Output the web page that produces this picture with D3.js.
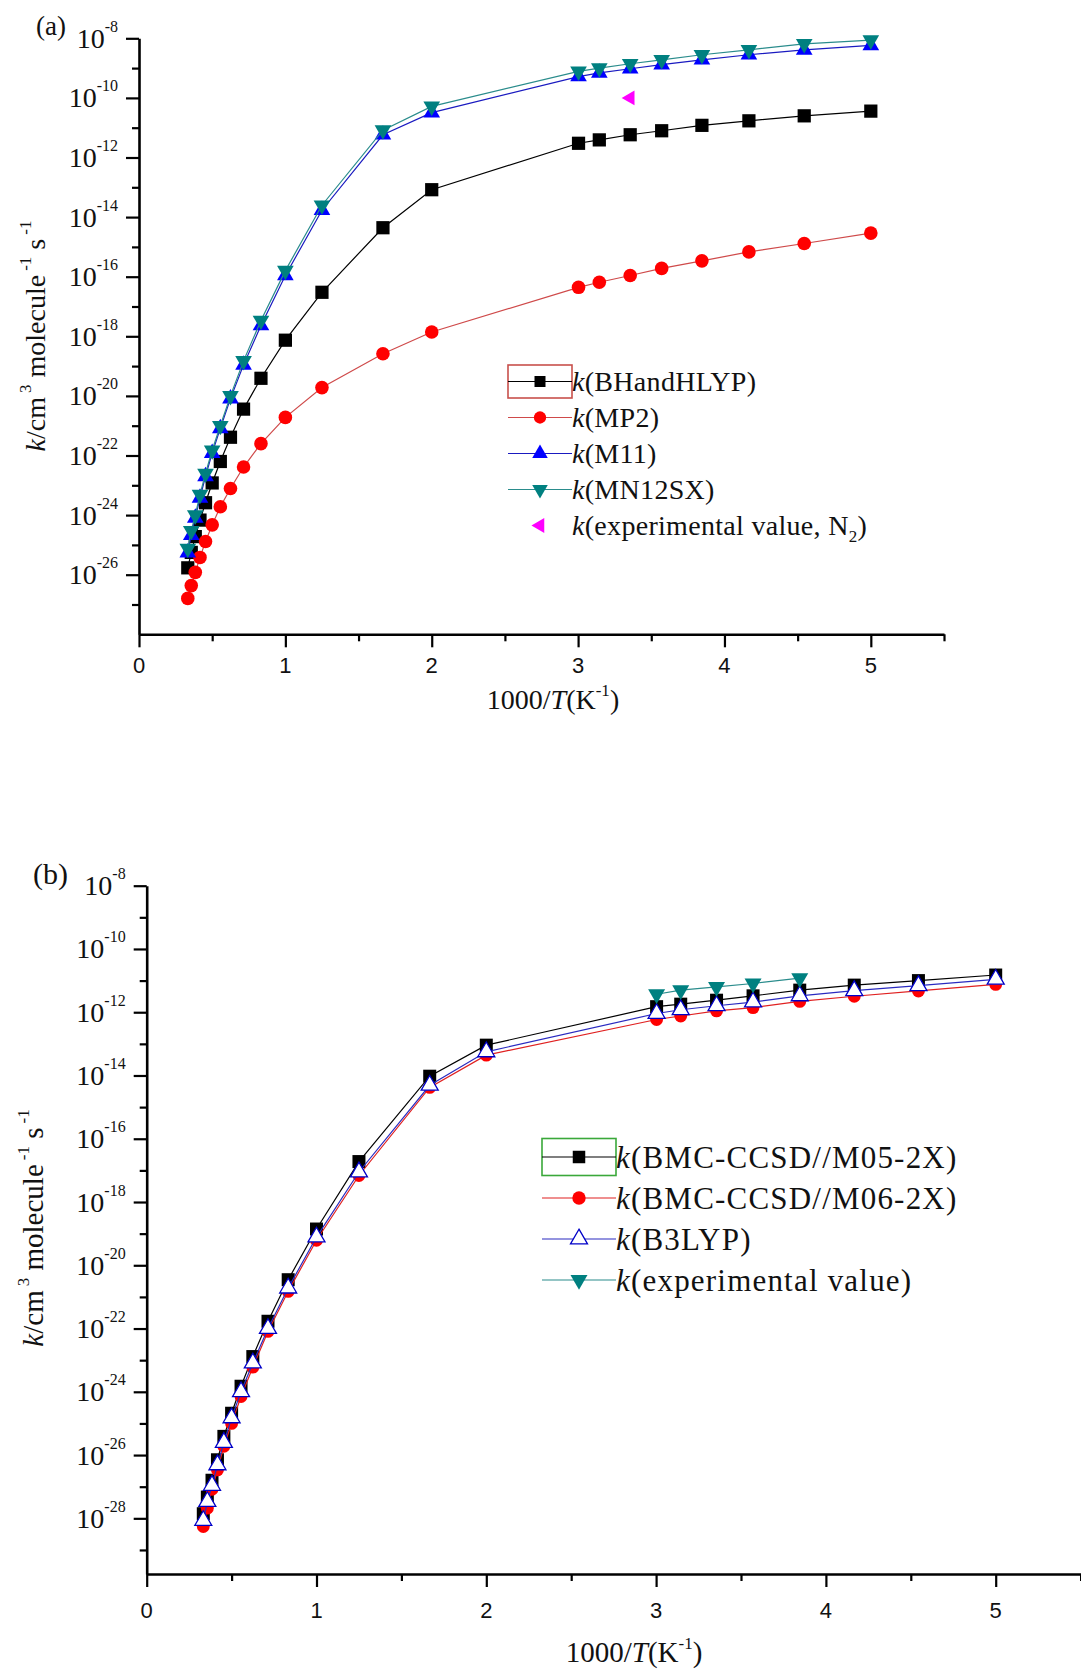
<!DOCTYPE html>
<html>
<head>
<meta charset="utf-8">
<script src="https://cdn.jsdelivr.net/npm/d3@7"></script>
<style>
  html, body { margin: 0; padding: 0; background: #fff; }
  svg { display: block; }
</style>
</head>
<body>
<div id="chart"></div>
<script>
// Data
//////////////////////////////////////////////////////////////////////
// 1000/T (K^-1)
var invT = [0.3333, 0.3571, 0.3846, 0.4167, 0.4545, 0.5, 0.5556, 0.625, 0.7143, 0.8333,
  1.0, 1.25, 1.6667, 2.0, 3.003, 3.145, 3.356, 3.571, 3.846, 4.167, 4.545, 5.0];

// panel (a)
var kBHandHLYP = [1.7e-26, 5.6e-26, 1.9e-25, 6.8e-25, 2.6e-24, 1.2e-23, 6.3e-23, 4.1e-22, 3.6e-21, 3.9e-20,
  7.4e-19, 3.0e-17, 4.4e-15, 8.3e-14, 3.0e-12, 3.9e-12, 5.8e-12, 7.9e-12, 1.2e-11, 1.7e-11, 2.5e-11, 3.6e-11];
var kMP2 = [1.6e-27, 4.3e-27, 1.2e-26, 3.8e-26, 1.3e-25, 4.7e-25, 1.9e-24, 7.8e-24, 4.1e-23, 2.5e-22,
  1.9e-21, 1.9e-20, 2.6e-19, 1.4e-18, 4.4e-17, 6.5e-17, 1.1e-16, 1.9e-16, 3.4e-16, 6.8e-16, 1.3e-15, 2.9e-15];
var kM11 = [5.5e-26, 2.1e-25, 8.1e-25, 3.8e-24, 2.0e-23, 1.2e-22, 8.1e-22, 8.1e-21, 1.1e-19, 2.3e-18,
  1.1e-16, 1.7e-14, 5.8e-12, 3.2e-11, 5.2e-10, 6.9e-10, 9.5e-10, 1.3e-9, 1.9e-9, 2.8e-9, 4.1e-9, 5.8e-9];
var kMN12SX = [7.6e-26, 3.0e-25, 1.0e-24, 4.9e-24, 2.5e-23, 1.5e-22, 1.0e-21, 1.0e-20, 1.5e-19, 3.4e-18,
  1.6e-16, 2.5e-14, 8.3e-12, 5.2e-11, 7.8e-10, 1.0e-9, 1.4e-9, 1.9e-9, 2.8e-9, 4.1e-9, 6.5e-9, 8.7e-9];
var invTExpN2 = [3.356];
var kExpN2 = [1.0e-10];

// panel (b)
var kM052X = [1.4e-28, 4.7e-28, 1.6e-27, 7.1e-27, 3.9e-26, 2.1e-25, 1.5e-24, 1.3e-23, 1.7e-22, 3.5e-21,
  1.4e-19, 1.9e-17, 9.5e-15, 9.1e-14, 1.5e-12, 1.8e-12, 2.4e-12, 3.3e-12, 5.0e-12, 7.2e-12, 1.0e-11, 1.5e-11];
var kM062X = [5.5e-29, 2.1e-28, 8.3e-28, 3.4e-27, 1.9e-26, 1.0e-25, 7.1e-25, 6.0e-24, 8.1e-23, 1.5e-21,
  6.2e-20, 6.9e-18, 4.2e-15, 4.4e-14, 5.9e-13, 7.6e-13, 1.1e-12, 1.4e-12, 2.2e-12, 3.2e-12, 4.7e-12, 7.6e-12];
var kB3LYP = [8.5e-29, 3.4e-28, 1.1e-27, 4.9e-27, 2.5e-26, 1.5e-25, 1.0e-24, 8.1e-24, 1.0e-22, 1.9e-21,
  7.8e-20, 8.9e-18, 4.9e-15, 5.6e-14, 9.1e-13, 1.2e-12, 1.6e-12, 2.1e-12, 3.3e-12, 4.8e-12, 6.9e-12, 1.1e-11];
var invTExp = [3.003, 3.145, 3.356, 3.571, 3.846];
var kExp = [3.7e-12, 5.0e-12, 6.3e-12, 8.1e-12, 1.2e-11];

// axis ticks
var xMajor = [0, 1, 2, 3, 4, 5];
var xMinor = [0.5, 1.5, 2.5, 3.5, 4.5, 5.5];
var yMajorA = [-8, -10, -12, -14, -16, -18, -20, -22, -24, -26];
var yMinorA = [-9, -11, -13, -15, -17, -19, -21, -23, -25, -27];
var yMajorB = [-8, -10, -12, -14, -16, -18, -20, -22, -24, -26, -28];
var yMinorB = [-9, -11, -13, -15, -17, -19, -21, -23, -25, -27, -29];

// Variables
//////////////////////////////////////////////////////////////////////
var width = 1081, height = 1670;
var serif = "'Liberation Serif', 'Times New Roman', serif";
var sans = "'Liberation Sans', Arial, sans-serif";

var svg = d3.select("#chart").append("svg")
  .attr("width", width)
  .attr("height", height)
  .attr("viewBox", [0, 0, width, height]);
svg.append("rect").attr("width", width).attr("height", height).attr("fill", "#fff");

// write text made of parts: [string, kind] kind = "i" | "sup" | "sub" | undefined
function richText(g, parts, supSize, supShift) {
  var shift = 0;
  parts.forEach(function (p) {
    var t = g.append("tspan").text(p[0]);
    var target = 0;
    if (p[1] === "sup") { target = -supShift; t.attr("font-size", supSize); }
    if (p[1] === "sub") { target = supShift * 0.55; t.attr("font-size", supSize); }
    if (p[1] === "i") t.attr("font-style", "italic");
    if (p[2]) t.attr("dx", p[2]);
    if (target !== shift) { t.attr("dy", target - shift); shift = target; }
  });
  return g;
}

function marker(sel, m) {
  var type = { square: d3.symbolSquare, circle: d3.symbolCircle, tri: d3.symbolTriangle }[m.shape];
  sel.attr("d", d3.symbol().type(type).size(m.size))
    .attr("fill", m.fill)
    .attr("stroke", m.stroke || "none")
    .attr("stroke-width", m.strokeWidth || 0);
}

// Draw one panel
//////////////////////////////////////////////////////////////////////
function panel(cfg) {
  var x = d3.scaleLinear().domain([0, 5.5]).range([cfg.left, cfg.right]);
  var y = d3.scaleLog().domain([cfg.yMin, 1e-8]).range([cfg.bottom, cfg.top]);
  var g = svg.append("g");

  // axes
  g.append("g").attr("transform", `translate(0,${cfg.bottom})`)
    .call(d3.axisBottom(x).tickValues(xMajor).tickSize(13).tickSizeOuter(0).tickFormat(""));
  g.append("g").attr("transform", `translate(0,${cfg.bottom})`)
    .call(d3.axisBottom(x).tickValues(xMinor).tickSize(7).tickSizeOuter(0).tickFormat(""))
    .select(".domain").remove();
  g.append("g").attr("transform", `translate(${cfg.left},0)`)
    .call(d3.axisLeft(y).tickValues(cfg.yMajor.map(e => Math.pow(10, e))).tickSize(13).tickSizeOuter(0).tickFormat(""));
  g.append("g").attr("transform", `translate(${cfg.left},0)`)
    .call(d3.axisLeft(y).tickValues(cfg.yMinor.map(e => Math.pow(10, e))).tickSize(7).tickSizeOuter(0).tickFormat(""))
    .select(".domain").remove();
  g.selectAll(".domain").attr("stroke", "#000").attr("stroke-width", 2.6);
  g.selectAll(".tick line").attr("stroke", "#000").attr("stroke-width", 2.2);

  // x tick labels
  g.append("g").selectAll("text").data(xMajor).join("text")
    .attr("x", d => x(d)).attr("y", cfg.bottom + cfg.xLabelDy)
    .attr("text-anchor", "middle")
    .attr("font-family", sans).attr("font-size", 22).attr("fill", "#111")
    .text(d => d);

  // y tick labels 10^n
  g.append("g").selectAll("text").data(cfg.yMajor).join("text")
    .attr("x", cfg.left - 21).attr("y", d => y(Math.pow(10, d)) + 9.5)
    .attr("text-anchor", "end")
    .attr("font-family", serif).attr("font-size", cfg.tickFont).attr("fill", "#111")
    .each(function (d) { richText(d3.select(this), [["10"], ["-" + (-d), "sup"]], 16, 16); });

  // axis titles
  richText(g.append("text")
    .attr("x", cfg.xTitleX).attr("y", cfg.xTitleY)
    .attr("text-anchor", "middle")
    .attr("font-family", serif).attr("font-size", cfg.titleFont).attr("fill", "#111"),
    [["1000/"], ["T", "i"], ["(K"], ["-1", "sup"], [")"]], 17, 13);

  richText(g.append("text")
    .attr("transform", `translate(${cfg.yTitleX},${cfg.yTitleY}) rotate(-90)`)
    .attr("text-anchor", "middle")
    .attr("font-family", serif).attr("font-size", cfg.titleFont).attr("fill", "#111"),
    [["k", "i"], ["/cm"], ["3", "sup", 4], [" molecule"], ["-1", "sup", 4], [" s"], ["-1", "sup", 4]], 17, 14);

  // panel letter
  g.append("text").attr("x", cfg.letterX).attr("y", cfg.letterY)
    .attr("font-family", serif).attr("font-size", cfg.letterFont).attr("fill", "#111")
    .text(cfg.letter);

  // series
  var line = d3.line().x(d => x(d[0])).y(d => y(d[1]));
  cfg.series.forEach(function (s) {
    var pts = s.xs.map((v, i) => [v, s.ks[i]]);
    if (s.line) {
      g.append("path").datum(pts)
        .attr("d", line)
        .attr("fill", "none")
        .attr("stroke", s.line)
        .attr("stroke-width", 1.2);
    }
    g.append("g").selectAll("path").data(pts).join("path")
      .call(marker, s.marker)
      .attr("transform", d => `translate(${x(d[0])},${y(d[1])}) rotate(${s.marker.rotate || 0})`);
  });

  // legend
  var lg = g.append("g");
  var L = cfg.legend;
  lg.append("rect")
    .attr("x", L.x0).attr("y", L.y0 - L.boxH / 2)
    .attr("width", L.x1 - L.x0).attr("height", L.boxH)
    .attr("fill", "none").attr("stroke", L.boxColor).attr("stroke-width", 1.6);
  cfg.series.forEach(function (s, i) {
    var ry = L.y0 + i * L.dy;
    if (s.line) {
      lg.append("line").attr("x1", L.x0).attr("x2", L.x1).attr("y1", ry).attr("y2", ry)
        .attr("stroke", s.line).attr("stroke-width", 1.2);
    }
    lg.append("path")
      .call(marker, Object.assign({}, s.marker, { size: s.legendSize || s.marker.size }))
      .attr("transform", `translate(${(L.x0 + L.x1) / 2},${ry}) rotate(${s.marker.rotate || 0})`);
    richText(lg.append("text")
      .attr("x", L.x1).attr("y", ry + L.font * 0.34)
      .attr("font-family", serif).attr("font-size", L.font).attr("fill", "#111")
      .attr("letter-spacing", L.spacing || 0),
      s.label, 17, 12);
  });
}

// Panel (a)
//////////////////////////////////////////////////////////////////////
panel({
  letter: "(a)", letterX: 36, letterY: 35, letterFont: 27,
  left: 139, right: 944, top: 38.3, bottom: 634.3, yMin: 1e-28,
  yMajor: yMajorA, yMinor: yMinorA,
  xLabelDy: 39, tickFont: 28, titleFont: 28,
  xTitleX: 553, xTitleY: 709, yTitleX: 45, yTitleY: 336,
  legend: { x0: 508, x1: 572, y0: 381.5, dy: 36, boxH: 33, boxColor: "#c8504c", font: 28, spacing: 0.3 },
  series: [
    { xs: invT, ks: kBHandHLYP, line: "#000", label: [["k", "i"], ["(BHandHLYP)"]],
      marker: { shape: "square", size: 175, fill: "#000" }, legendSize: 121 },
    { xs: invT, ks: kMP2, line: "#cf4a4a", label: [["k", "i"], ["(MP2)"]],
      marker: { shape: "circle", size: 145, fill: "#ff0000" }, legendSize: 120 },
    { xs: invT, ks: kM11, line: "#1a1ac0", label: [["k", "i"], ["(M11)"]],
      marker: { shape: "tri", size: 120, fill: "#0000ff" }, legendSize: 105 },
    { xs: invT, ks: kMN12SX, line: "#2a8c8c", label: [["k", "i"], ["(MN12SX)"]],
      marker: { shape: "tri", size: 120, fill: "#008080", rotate: 180 }, legendSize: 105 },
    { xs: invTExpN2, ks: kExpN2, line: null, label: [["k", "i"], ["(experimental value, N"], ["2", "sub"], [")"]],
      marker: { shape: "tri", size: 95, fill: "#ff00ff", rotate: -90 }, legendSize: 95 }
  ]
});

// Panel (b)
//////////////////////////////////////////////////////////////////////
panel({
  letter: "(b)", letterX: 33, letterY: 884, letterFont: 30,
  left: 146.7, right: 1080.6, top: 885.7, bottom: 1574, yMin: Math.pow(10, -29.76),
  yMajor: yMajorB, yMinor: yMinorB,
  xLabelDy: 44, tickFont: 28, titleFont: 29,
  xTitleX: 634, xTitleY: 1662, yTitleX: 43, yTitleY: 1228,
  legend: { x0: 542, x1: 616, y0: 1157, dy: 41, boxH: 37, boxColor: "#3aa83a", font: 31, spacing: 1.2 },
  series: [
    { xs: invT, ks: kM052X, line: "#000", label: [["k", "i"], ["(BMC-CCSD//M05-2X)"]],
      marker: { shape: "square", size: 169, fill: "#000" }, legendSize: 156 },
    { xs: invT, ks: kM062X, line: "#e02020", label: [["k", "i"], ["(BMC-CCSD//M06-2X)"]],
      marker: { shape: "circle", size: 130, fill: "#ff0000" }, legendSize: 140 },
    { xs: invT, ks: kB3LYP, line: "#2a2ac0", label: [["k", "i"], ["(B3LYP)"]],
      marker: { shape: "tri", size: 125, fill: "#fff", stroke: "#0000c8", strokeWidth: 1.3 }, legendSize: 125 },
    { xs: invTExp, ks: kExp, line: "#2a8c8c", label: [["k", "i"], ["(experimental value)"]],
      marker: { shape: "tri", size: 125, fill: "#008080", rotate: 180 }, legendSize: 125 }
  ]
});
</script>
</body>
</html>
